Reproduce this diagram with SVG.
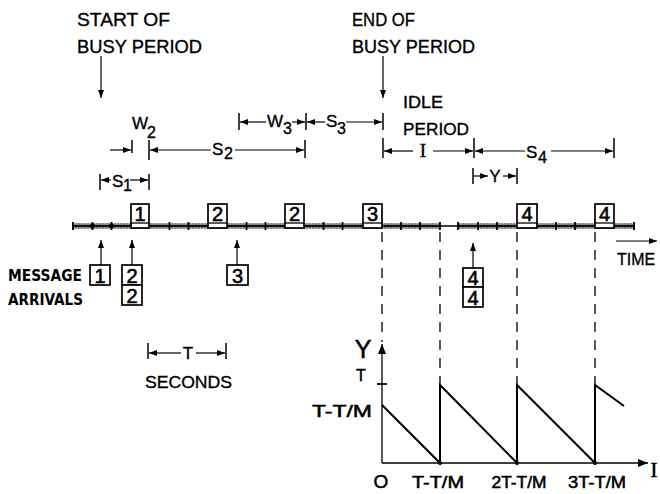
<svg xmlns="http://www.w3.org/2000/svg" width="660" height="494" viewBox="0 0 660 494">
<defs>
<marker id="ah" markerWidth="8" markerHeight="6" refX="8" refY="3" orient="auto" markerUnits="userSpaceOnUse"><path d="M0,0 L8,3 L0,6 z" fill="#000"/></marker>
<marker id="ahb" markerWidth="10" markerHeight="8" refX="10" refY="4" orient="auto" markerUnits="userSpaceOnUse"><path d="M0,0 L10,4 L0,8 z" fill="#000"/></marker>
<pattern id="stip" width="3" height="3" patternUnits="userSpaceOnUse"><rect width="3" height="3" fill="#888"/><rect width="2" height="2" fill="#111"/></pattern>
</defs>
<style>
text{stroke:#000;stroke-width:0.35}
.t{font-family:"Liberation Sans",Arial,sans-serif;font-size:18px;fill:#000}
.s{font-family:"Liberation Sans",Arial,sans-serif;font-size:17px;fill:#000}
.sub{font-family:"Liberation Sans",Arial,sans-serif;font-size:16px;fill:#000}
.d{font-family:"Liberation Sans",Arial,sans-serif;font-size:20px;fill:#000;text-anchor:middle;stroke-width:0.6}
.b{font-family:"DejaVu Sans Condensed","DejaVu Sans",sans-serif;font-size:15px;font-weight:bold;fill:#000;stroke-width:0}
.g{font-family:"Liberation Sans",Arial,sans-serif;font-size:16px;fill:#000;text-anchor:middle;stroke-width:0.5}
.big{font-family:"Liberation Sans",Arial,sans-serif;font-size:25px;fill:#000;text-anchor:middle;stroke-width:0.5}
.o{font-family:"Liberation Sans",Arial,sans-serif;font-size:19px;fill:#000;text-anchor:middle;stroke-width:0.5}
.sf{font-family:"Liberation Serif","Times New Roman",serif;fill:#000}
.ln{stroke:#000;stroke-width:1.3;fill:none}
.bar{stroke:#000;stroke-width:1.5;fill:none}
.ar{stroke:#000;stroke-width:1.2;fill:none;marker-end:url(#ah)}
.box{stroke:#000;stroke-width:1.7;fill:#fff}
.dash{stroke:#000;stroke-width:1.3;fill:none;stroke-dasharray:10 8}
.tk{stroke:#000;stroke-width:1.8}
</style>

<g id="labels-top">
<text class="t" x="77" y="26" textLength="93" lengthAdjust="spacingAndGlyphs">START OF</text>
<text class="t" x="77" y="53" textLength="125" lengthAdjust="spacingAndGlyphs">BUSY PERIOD</text>
<text class="t" x="352" y="26" textLength="63" lengthAdjust="spacingAndGlyphs">END OF</text>
<text class="t" x="352" y="53" textLength="123" lengthAdjust="spacingAndGlyphs">BUSY PERIOD</text>
<text class="s" x="403" y="108" textLength="40" lengthAdjust="spacingAndGlyphs">IDLE</text>
<text class="s" x="403" y="135" textLength="66" lengthAdjust="spacingAndGlyphs">PERIOD</text>
</g>

<g id="connectors">
<line class="ar" x1="101" y1="56" x2="101" y2="98"/>
<line class="ar" x1="383" y1="56" x2="383" y2="98"/>
<line class="bar" x1="239" y1="113" x2="239" y2="130"/>
<line class="bar" x1="306" y1="113" x2="306" y2="130"/>
<line class="bar" x1="383" y1="113" x2="383" y2="130"/>
<line class="ar" x1="266" y1="122" x2="240" y2="122"/>
<line class="ar" x1="292" y1="122" x2="305" y2="122"/>
<line class="ar" x1="325" y1="122" x2="307" y2="122"/>
<line class="ar" x1="346" y1="122" x2="382" y2="122"/>
<line class="ar" x1="110" y1="150" x2="131" y2="150"/>
<line class="bar" x1="132" y1="140" x2="132" y2="153"/>
<line class="bar" x1="149" y1="140" x2="149" y2="160"/>
<line class="ar" x1="211" y1="150" x2="150" y2="150"/>
<line class="ar" x1="235" y1="150" x2="304" y2="150"/>
<line class="bar" x1="305" y1="140" x2="305" y2="158"/>
<line class="bar" x1="100" y1="174" x2="100" y2="190"/>
<line class="bar" x1="149" y1="174" x2="149" y2="190"/>
<line class="ar" x1="111" y1="180" x2="101" y2="180"/>
<line class="ar" x1="130" y1="180" x2="148" y2="180"/>
<line class="bar" x1="383" y1="138" x2="383" y2="158"/>
<line class="bar" x1="474" y1="138" x2="474" y2="158"/>
<line class="bar" x1="614" y1="138" x2="614" y2="158"/>
<line class="ar" x1="413" y1="151" x2="384" y2="151"/>
<line class="ar" x1="433" y1="151" x2="473" y2="151"/>
<line class="ar" x1="525" y1="151" x2="475" y2="151"/>
<line class="ar" x1="551" y1="151" x2="613" y2="151"/>
<line class="bar" x1="473" y1="168" x2="473" y2="184"/>
<line class="bar" x1="517" y1="168" x2="517" y2="184"/>
<line class="ar" x1="474" y1="176" x2="488" y2="176"/>
<line class="ar" x1="503" y1="176" x2="516" y2="176"/>
<line class="bar" x1="148" y1="343" x2="148" y2="359"/>
<line class="bar" x1="226" y1="343" x2="226" y2="359"/>
<line class="ar" x1="181" y1="353" x2="149" y2="353"/>
<line class="ar" x1="196" y1="353" x2="225" y2="353"/>
<line class="ar" x1="101" y1="265" x2="101" y2="240"/>
<line class="ar" x1="132" y1="265" x2="132" y2="240"/>
<line class="ar" x1="237" y1="265" x2="237" y2="240"/>
<line class="ar" x1="473" y1="268" x2="473" y2="243"/>
<line class="ar" x1="616" y1="241" x2="657" y2="241"/>
<line class="dash" x1="382" y1="232" x2="382" y2="342"/>
<line class="dash" x1="440" y1="232" x2="440" y2="385"/>
<line class="dash" x1="517" y1="232" x2="517" y2="385"/>
<line class="dash" x1="595" y1="232" x2="595" y2="385"/>
</g>

<g id="bracket-labels">
<text class="s" x="267" y="127">W</text><text class="sub" x="283" y="134">3</text>
<text class="s" x="326" y="127">S</text><text class="sub" x="337" y="134">3</text>
<text class="s" x="132" y="129">W</text><text class="sub" x="147" y="138">2</text>
<text class="s" x="212" y="155">S</text><text class="sub" x="224" y="159">2</text>
<text class="s" x="112" y="187">S</text><text class="sub" x="123" y="191">1</text>
<text class="sf" x="423" y="157" font-size="19" text-anchor="middle">I</text>
<text class="s" x="526" y="158">S</text><text class="sub" x="538" y="163">4</text>
<text class="s" x="495" y="182" text-anchor="middle">Y</text>
<text class="s" x="188" y="359" text-anchor="middle">T</text>
<text class="s" x="145" y="388" textLength="87" lengthAdjust="spacingAndGlyphs">SECONDS</text>
<text class="s" x="617" y="265" textLength="38" lengthAdjust="spacingAndGlyphs">TIME</text>
</g>

<g id="time-axis">
<rect x="72" y="223.5" width="368" height="5" fill="url(#stip)"/>
<rect x="458" y="223.5" width="177" height="5" fill="url(#stip)"/>
<line class="ln" x1="72" y1="226" x2="635" y2="226"/>
<g class="tk">
<line x1="73" y1="222" x2="73" y2="230"/>
<line x1="92.5" y1="222" x2="92.5" y2="230"/>
<line x1="111.5" y1="222" x2="111.5" y2="230"/>
<line x1="169.5" y1="222" x2="169.5" y2="230"/>
<line x1="188.5" y1="222" x2="188.5" y2="230"/>
<line x1="246.5" y1="222" x2="246.5" y2="230"/>
<line x1="265.5" y1="222" x2="265.5" y2="230"/>
<line x1="323.5" y1="222" x2="323.5" y2="230"/>
<line x1="342.5" y1="222" x2="342.5" y2="230"/>
<line x1="401" y1="222" x2="401" y2="230"/>
<line x1="420" y1="222" x2="420" y2="230"/>
<line x1="440" y1="222" x2="440" y2="230"/>
<line x1="458" y1="222" x2="458" y2="230"/>
<line x1="478" y1="222" x2="478" y2="230"/>
<line x1="497" y1="222" x2="497" y2="230"/>
<line x1="556" y1="222" x2="556" y2="230"/>
<line x1="575" y1="222" x2="575" y2="230"/>
<line x1="634" y1="222" x2="634" y2="230"/>
</g>
<circle cx="92.5" cy="226" r="2.4"/>
<circle cx="111.5" cy="226" r="2.4"/>
</g>

<g id="slot-1"><rect class="box" x="131" y="204" width="18" height="24"/><line class="ln" x1="131" y1="223" x2="149" y2="223"/><text class="d" x="140" y="221">1</text></g>
<g id="slot-2a"><rect class="box" x="208" y="204" width="19" height="24"/><line class="ln" x1="208" y1="223" x2="227" y2="223"/><text class="d" x="217.5" y="221">2</text></g>
<g id="slot-2b"><rect class="box" x="285" y="204" width="19" height="24"/><line class="ln" x1="285" y1="223" x2="304" y2="223"/><text class="d" x="294.5" y="221">2</text></g>
<g id="slot-3"><rect class="box" x="363" y="204" width="19" height="24"/><line class="ln" x1="363" y1="223" x2="382" y2="223"/><text class="d" x="372.5" y="221">3</text></g>
<g id="slot-4a"><rect class="box" x="517" y="204" width="20" height="24"/><line class="ln" x1="517" y1="223" x2="537" y2="223"/><text class="d" x="527" y="221">4</text></g>
<g id="slot-4b"><rect class="box" x="595" y="204" width="19" height="24"/><line class="ln" x1="595" y1="223" x2="614" y2="223"/><text class="d" x="604.5" y="221">4</text></g>

<g id="arrivals">
<text class="b" x="8" y="281" textLength="74" lengthAdjust="spacingAndGlyphs">MESSAGE</text>
<text class="b" x="8" y="305" textLength="75" lengthAdjust="spacingAndGlyphs">ARRIVALS</text>
<rect class="box" x="90" y="265" width="20" height="20"/><text class="d" x="100" y="283">1</text>
<rect class="box" x="122" y="265" width="20" height="20"/><text class="d" x="132" y="283">2</text>
<rect class="box" x="122" y="285" width="20" height="20"/><text class="d" x="132" y="303">2</text>
<rect class="box" x="227" y="265" width="21" height="20"/><text class="d" x="237.5" y="283">3</text>
<rect class="box" x="463" y="268" width="20" height="19"/><text class="d" x="473" y="285">4</text>
<rect class="box" x="463" y="287" width="20" height="20"/><text class="d" x="473" y="305">4</text>
</g>

<g id="graph">
<line class="ln" x1="382" y1="463" x2="382" y2="344" style="marker-end:url(#ahb)"/>
<line class="ln" x1="382" y1="463" x2="648" y2="463" style="marker-end:url(#ahb)"/>
<line class="tk" x1="377" y1="384" x2="387" y2="384"/>
<polyline points="382,405 440,463 440,385 517,463 517,385 595,463 595,385 624,406" fill="none" stroke="#000" stroke-width="2"/>
<circle cx="440" cy="463" r="2"/><circle cx="517" cy="463" r="2"/><circle cx="595" cy="463" r="2"/>
<text class="big" x="363" y="358">Y</text>
<text class="g" x="361" y="381">T</text>
<text class="g" x="342" y="417" textLength="60" lengthAdjust="spacingAndGlyphs">T-T/M</text>
<text class="o" x="381" y="488">O</text>
<text class="g" x="438" y="488" textLength="52" lengthAdjust="spacingAndGlyphs">T-T/M</text>
<text class="g" x="519" y="488" textLength="55" lengthAdjust="spacingAndGlyphs">2T-T/M</text>
<text class="g" x="597" y="488" textLength="58" lengthAdjust="spacingAndGlyphs">3T-T/M</text>
<text class="sf" x="654" y="477" font-size="22" text-anchor="middle">I</text>
</g>
</svg>
